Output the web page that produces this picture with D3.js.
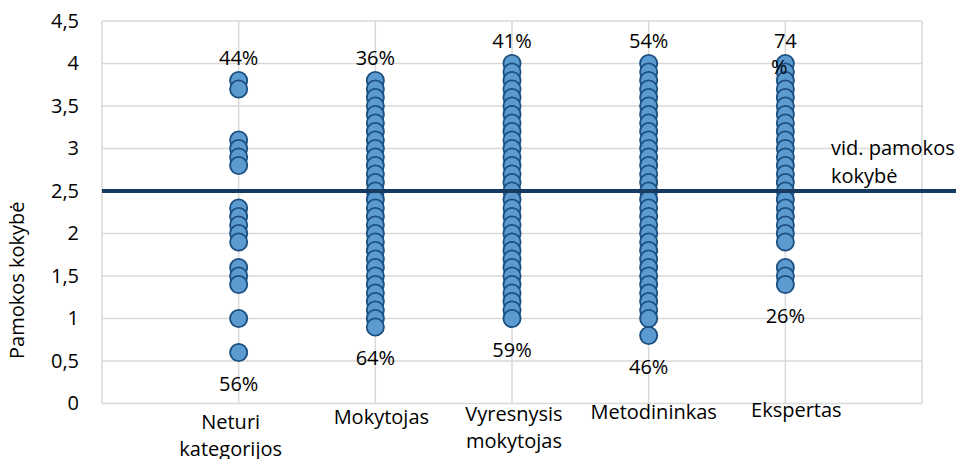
<!DOCTYPE html>
<html><head><meta charset="utf-8">
<script src="https://cdn.jsdelivr.net/npm/d3@7"></script>
<style>
body{margin:0;background:#fff;}
text{font-family:"Open Sans",sans-serif;fill:#000;}
</style></head>
<body><svg id="c" width="956" height="459"></svg>
<script>
// ---- data ----
const categories = [["Neturi","kategorijos"],["Mokytojas"],["Vyresnysis","mokytojas"],["Metodininkas"],["Ekspertas"]];
const neturi = [3.8,3.7,3.1,3.0,2.9,2.8,2.3,2.2,2.1,2.0,1.9,1.6,1.5,1.4,1.0,0.6];
const mokytojas = [3.8,3.7,3.6,3.5,3.4,3.3,3.2,3.1,3.0,2.9,2.8,2.7,2.6,2.5,2.4,2.3,2.2,2.1,2.0,1.9,1.8,1.7,1.6,1.5,1.4,1.3,1.2,1.1,1.0,0.9];
const vyresnysis = [4.0,3.9,3.8,3.7,3.6,3.5,3.4,3.3,3.2,3.1,3.0,2.9,2.8,2.7,2.6,2.5,2.4,2.3,2.2,2.1,2.0,1.9,1.8,1.7,1.6,1.5,1.4,1.3,1.2,1.1,1.0];
const metodininkas = [4.0,3.9,3.8,3.7,3.6,3.5,3.4,3.3,3.2,3.1,3.0,2.9,2.8,2.7,2.6,2.5,2.4,2.3,2.2,2.1,2.0,1.9,1.8,1.7,1.6,1.5,1.4,1.3,1.2,1.1,1.0,0.8];
const ekspertas = [4.0,3.9,3.8,3.7,3.6,3.5,3.4,3.3,3.2,3.1,3.0,2.9,2.8,2.7,2.6,2.5,2.4,2.3,2.2,2.1,2.0,1.9,1.6,1.5,1.4];
const seriesValues = [neturi, mokytojas, vyresnysis, metodininkas, ekspertas];
const abovePct = [["44%"],["36%"],["41%"],["54%"],["74","%"]];
const belowPct = ["56%","64%","59%","46%","26%"];
const avgQuality = 2.5;
const avgLabel = ["vid. pamokos","kokybė"];
const yTickValues = [0,0.5,1,1.5,2,2.5,3,3.5,4,4.5];
const yTickLabels = ["0","0,5","1","1,5","2","2,5","3","3,5","4","4,5"];
const yTitle = "Pamokos kokybė";

// ---- layout ----
const svg = d3.select("#c");
const x = d3.scaleLinear().domain([0,6]).range([102,922]);
const y = d3.scaleLinear().domain([0,4.5]).range([403.5,21]);
const fs = 20;
const catDx = [-8,6,2,5,11];
const catBaseline = [429,424,421,419,417];

// grid
const g = svg.append("g");
g.selectAll("line.h").data(yTickValues).join("line")
  .attr("x1",x(0)).attr("x2",x(6)).attr("y1",d=>y(d)).attr("y2",d=>y(d))
  .attr("stroke","#d9d9d9").attr("stroke-width",1.5);
g.selectAll("line.v").data(d3.range(0,7)).join("line")
  .attr("x1",d=>x(d)).attr("x2",d=>x(d)).attr("y1",y(0)).attr("y2",y(4.5))
  .attr("stroke","#d9d9d9").attr("stroke-width",1.5);

// y axis labels
const ax = d3.axisLeft(y).tickValues(yTickValues).tickFormat((d,i)=>yTickLabels[i]).tickSize(0).tickPadding(23);
const axG = svg.append("g").attr("transform",`translate(${x(0)},0)`).call(ax);
axG.select(".domain").remove();
axG.selectAll("text").attr("font-size",fs).attr("font-family","Open Sans").attr("fill","#000");

svg.append("text").attr("transform",`translate(24,${y(1.45)}) rotate(-90)`)
  .attr("text-anchor","middle").attr("font-size",fs).text(yTitle);

// dots
seriesValues.forEach((vals,i)=>{
  svg.append("g").selectAll("circle").data(vals).join("circle")
    .attr("cx",x(i+1)).attr("cy",d=>y(d)).attr("r",8.6)
    .attr("fill","#5b9bd0").attr("stroke","#1b4f80").attr("stroke-width",1.8);
});

// average line
svg.append("line").attr("x1",x(0)).attr("x2",956).attr("y1",y(avgQuality)).attr("y2",y(avgQuality))
  .attr("stroke","#163a62").attr("stroke-width",4);
const al = svg.append("text").attr("x",831).attr("y",y(avgQuality)-36).attr("font-size",fs);
avgLabel.forEach((t,i)=>al.append("tspan").attr("x",831).attr("dy",i?28:0).text(t));

// percentage labels
seriesValues.forEach((vals,i)=>{
  const top = svg.append("text").attr("text-anchor","middle").attr("font-size",fs)
    .attr("x",x(i+1)).attr("y",y(d3.max(vals))-16);
  abovePct[i].forEach((t,j)=>top.append("tspan").attr("x",x(i+1)-(j?6:0)).attr("dy",j?26:0).text(t));
  svg.append("text").attr("text-anchor","middle").attr("font-size",fs)
    .attr("x",x(i+1)).attr("y",y(d3.min(vals))+38).text(belowPct[i]);
});

// category labels
categories.forEach((lines,i)=>{
  const t = svg.append("text").attr("text-anchor","middle").attr("font-size",fs)
    .attr("x",x(i+1)+catDx[i]).attr("y",catBaseline[i]);
  lines.forEach((l,j)=>t.append("tspan").attr("x",x(i+1)+catDx[i]).attr("dy",j?27:0).text(l));
});
</script></body></html>
